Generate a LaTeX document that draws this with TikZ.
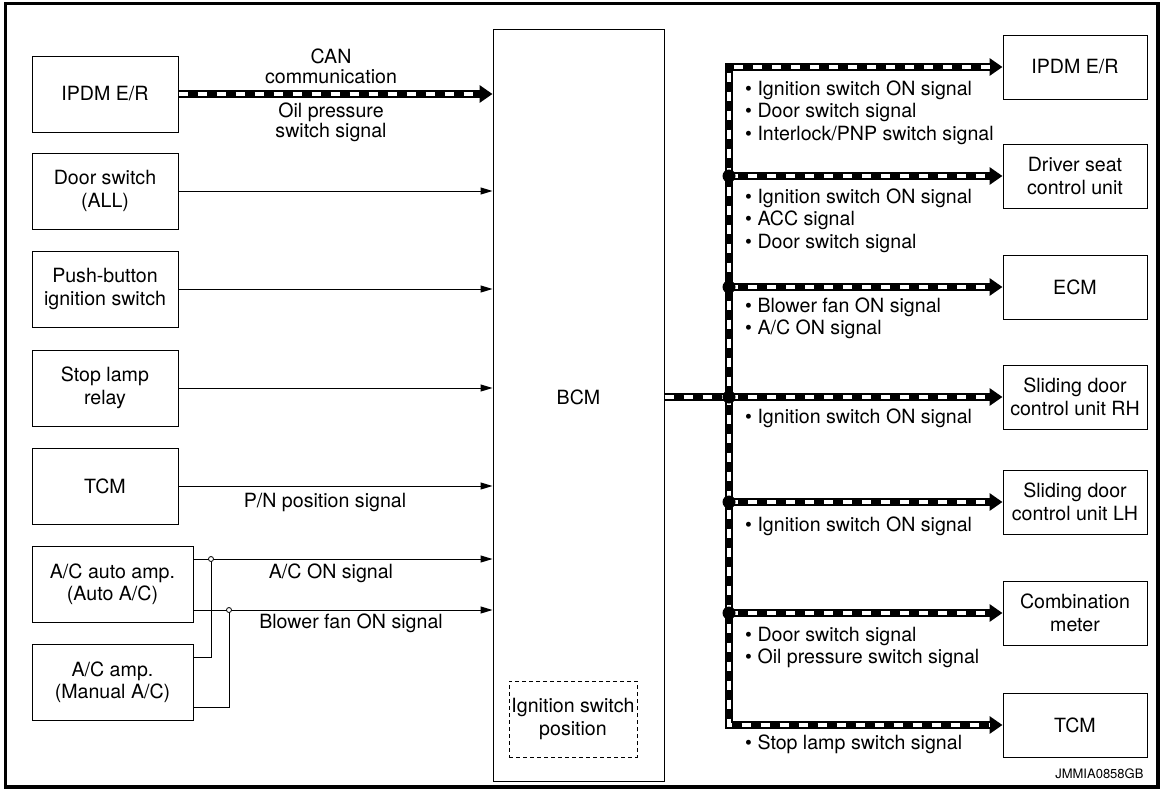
\documentclass[tikz,border=0pt]{standalone}
\usepackage{fontspec}
\setmainfont{TeX Gyre Heros}
\usetikzlibrary{arrows.meta}

\tikzset{
  sigtip/.tip={Triangle[length=12pt,width=7pt]},
  bustip/.tip={Triangle[length=13pt,width=17pt]},
  box/.style={draw, line width=1pt, minimum width=146pt, minimum height=76pt, align=center, inner sep=0pt},
  rbox/.style={box, minimum width=144pt, minimum height=64pt},
  sig/.style={line width=1pt, -sigtip},
  wire/.style={line width=1pt},
  bus/.style 2 args={line width=8pt, line join=miter,
    postaction={draw=white, line width=3.5pt, arrows=-, dash pattern=on 9pt off 10pt, shorten <=#1, shorten >=#2}},
  txt/.style={align=center, inner sep=0pt},
  lbl/.style={align=left, anchor=base west, inner sep=0pt},
}

\begin{document}
\begin{tikzpicture}[x=1pt,y=-1pt,font=\fontsize{19.6}{22.5}\selectfont]
    \useasboundingbox (0,0) rectangle (1162,790);
    \draw[line width=3.5pt] (5.5,3.5) rectangle (1158,787);
    % inputs
    \node[box] (ipdml) at (105,94) {IPDM E/R};
    \node[box] (door) at (105,191) {Door switch\\(ALL)};
    \node[box] (push) at (105,289) {Push-button\\ignition switch};
    \node[box] (stop) at (105,388) {Stop lamp\\relay};
    \node[box] (tcml) at (105,486) {TCM};
    \node[box, minimum width=161pt] (acauto) at (112.5,584) {A/C auto amp.\\(Auto A/C)};
    \node[box, minimum width=161pt] (acman) at (112.5,682) {A/C amp.\\(Manual A/C)};
    % BCM
    \node[box, minimum width=171pt, minimum height=752pt] (bcm) at (578.5,405) {};
    \node[txt] (bcmtxt) at (578.5,397) {BCM};
    \node[box, dash pattern=on 4pt off 3pt, minimum width=128pt, minimum height=76pt] (ignpos) at (573,719) {Ignition switch\\position};
    % outputs
    \node[rbox] (ipdmr) at (1075,67) {IPDM E/R};
    \node[rbox] (dseat) at (1075,176) {Driver seat\\control unit};
    \node[rbox] (ecm) at (1075,287) {ECM};
    \node[rbox] (sdrh) at (1075,397) {Sliding door\\control unit RH};
    \node[rbox] (sdlh) at (1075,502) {Sliding door\\control unit LH};
    \node[rbox] (cmeter) at (1075,613) {Combination\\meter};
    \node[rbox] (tcmr) at (1075,725) {TCM};
    % left side signals
    \draw[bus={0pt}{13pt}, -bustip] (ipdml.east) -- (ipdml.east -| bcm.west);
    \foreach \u in {door,push,stop,tcml}
        \draw[sig] (\u.east) -- (\u.east -| bcm.west);
    \coordinate (acon) at (211,559);
    \coordinate (blow) at (229,610);
    \draw[sig] (acauto.east |- acon) -- (bcm.west |- acon);
    \draw[sig] (acauto.east |- blow) -- (bcm.west |- blow);
    \draw[wire] ([yshift=25pt]acman.east) -| (acon);
    \draw[wire] ([yshift=-25pt]acman.east) -| (blow);
    \filldraw[line width=0.8pt, fill=white] (acon) circle[radius=2.5pt];
    \filldraw[line width=0.8pt, fill=white] (blow) circle[radius=2.5pt];
    \node[txt, font=\fontsize{19.6}{20}\selectfont] (cantxt) at (331,66) {CAN\\communication};
    \node[txt, font=\fontsize{19.6}{20}\selectfont] (oiltxt) at (331,122) {Oil pressure\\switch signal};
    \node[txt] (pntxt) at (325,502) {P/N position signal};
    \node[txt] (acontxt) at (331,573) {A/C ON signal};
    \node[txt] (blowtxt) at (351,623) {Blower fan ON signal};
    % right side bus
    \coordinate (bustop) at (729,67);
    \coordinate (busbot) at (729,725);
    \draw[bus={13pt}{13pt}, bustip-bustip] (ipdmr.west) -- (bustop) -- (busbot) -- (tcmr.west);
    \draw[bus={0pt}{0pt}] (bcm.east |- sdrh) -- (bustop |- sdrh);
    \foreach \u/\j in {dseat/j1,ecm/j2,sdrh/j3,sdlh/j4,cmeter/j5} {
        \coordinate (\j) at (bustop |- \u);
        \draw[bus={0pt}{13pt}, -bustip] (\j) -- (\u.west);
        \fill (\j) circle[radius=6.5pt];
    }
    % base anchor sits on the last line
    \node[lbl] (ipdmsig) at (745,140) {\textbullet\ Ignition switch ON signal\\\textbullet\ Door switch signal\\\textbullet\ Interlock/PNP switch signal};
    \node[lbl] (dseatsig) at (745,248) {\textbullet\ Ignition switch ON signal\\\textbullet\ ACC signal\\\textbullet\ Door switch signal};
    \node[lbl] (ecmsig) at (745,334.5) {\textbullet\ Blower fan ON signal\\\textbullet\ A/C ON signal};
    \node[lbl] (sdrhsig) at (745,423) {\textbullet\ Ignition switch ON signal};
    \node[lbl] (sdlhsig) at (745,531) {\textbullet\ Ignition switch ON signal};
    \node[lbl] (cmetersig) at (745,663.5) {\textbullet\ Door switch signal\\\textbullet\ Oil pressure switch signal};
    \node[lbl] (tcmsig) at (745,749) {\textbullet\ Stop lamp switch signal};
    \node[anchor=east, font=\fontsize{13}{15}\selectfont] (figid) at (1147,774) {JMMIA0858GB};
\end{tikzpicture}
\end{document}
